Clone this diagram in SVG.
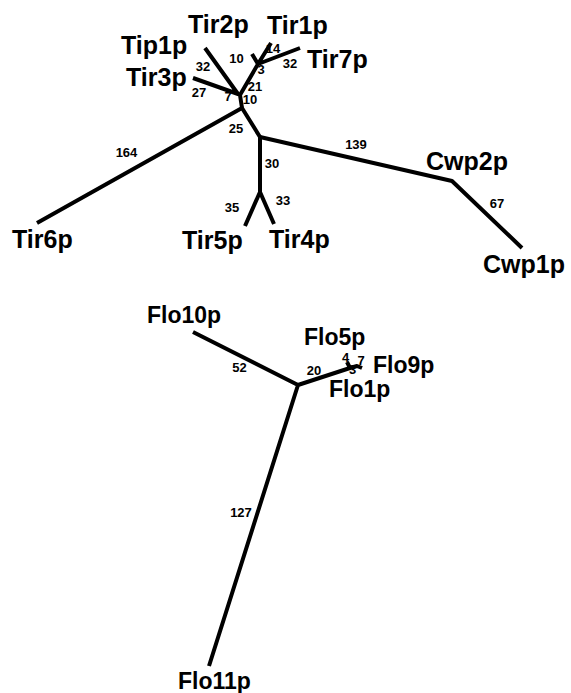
<svg xmlns="http://www.w3.org/2000/svg" width="571" height="693" viewBox="0 0 571 693">
<style>
.e{stroke:#000;stroke-width:4;fill:none;stroke-linecap:butt;stroke-linejoin:round}
.lb{font-family:"Liberation Sans",Arial,sans-serif;font-weight:bold;font-size:25px;fill:#000}
.lf{font-family:"Liberation Sans",Arial,sans-serif;font-weight:bold;font-size:23px;fill:#000}
.n{font-family:"Liberation Sans",Arial,sans-serif;font-weight:bold;font-size:13px;fill:#000;text-anchor:middle}
</style>
<rect width="571" height="693" fill="#fff"/>
<g id="connectors">
  <path class="e" d="M252,54 L258,64 M271,43 L258,64 M300,48 L258,64 L240,95"/>
  <path class="e" d="M205,48 L238,94 M193,78 L238,94 L240,95 L242,108"/>
  <path class="e" d="M37,223 L242,108 L260,137 L260,192 M245,226 L260,192 L274,224"/>
  <path class="e" d="M260,137 L452,181 L522,248"/>
  <path class="e" d="M193,332 L298,385 L350,368 M298,385 L209,666"/>
  <path class="e" stroke-width="3" d="M347,362 L350,368 L357,366 L362,368"/>
  <g id="edge-labels">
    <text class="n" x="236.5" y="63">10</text>
    <text class="n" x="273" y="53">14</text>
    <text class="n" x="290" y="68">32</text>
    <text class="n" x="261" y="74">3</text>
    <text class="n" x="255" y="91">21</text>
    <text class="n" x="203" y="71">32</text>
    <text class="n" x="199" y="97">27</text>
    <text class="n" x="228" y="101">7</text>
    <text class="n" x="250" y="104">10</text>
    <text class="n" x="236" y="133">25</text>
    <text class="n" x="126.5" y="157">164</text>
    <text class="n" x="272" y="168">30</text>
    <text class="n" x="232" y="212">35</text>
    <text class="n" x="283" y="205">33</text>
    <text class="n" x="356" y="149">139</text>
    <text class="n" x="497" y="208">67</text>
    <text class="n" x="239.5" y="372">52</text>
    <text class="n" x="314" y="375">20</text>
    <text class="n" x="345.5" y="362">4</text>
    <text class="n" x="361" y="365">7</text>
    <text class="n" x="352.5" y="374" font-size="12">3</text>
    <text class="n" x="241" y="517">127</text>
  </g>
</g>
<g id="Tir2p"><text class="lb" x="188" y="33">Tir2p</text></g>
<g id="Tir1p"><text class="lb" x="267" y="34">Tir1p</text></g>
<g id="Tip1p"><text class="lb" x="121" y="54">Tip1p</text></g>
<g id="Tir3p"><text class="lb" x="126" y="86">Tir3p</text></g>
<g id="Tir7p"><text class="lb" x="307" y="68">Tir7p</text></g>
<g id="Tir6p"><text class="lb" x="12" y="248">Tir6p</text></g>
<g id="Tir5p"><text class="lb" x="182" y="249">Tir5p</text></g>
<g id="Tir4p"><text class="lb" x="269" y="248">Tir4p</text></g>
<g id="Cwp2p"><text class="lb" x="426" y="170">Cwp2p</text></g>
<g id="Cwp1p"><text class="lb" x="483" y="273">Cwp1p</text></g>
<g id="Flo10p"><text class="lf" x="147" y="323">Flo10p</text></g>
<g id="Flo5p"><text class="lf" x="304" y="345">Flo5p</text></g>
<g id="Flo9p"><text class="lf" x="373" y="373">Flo9p</text></g>
<g id="Flo1p"><text class="lf" x="329" y="397">Flo1p</text></g>
<g id="Flo11p"><text class="lf" x="178" y="689">Flo11p</text></g>
</svg>
